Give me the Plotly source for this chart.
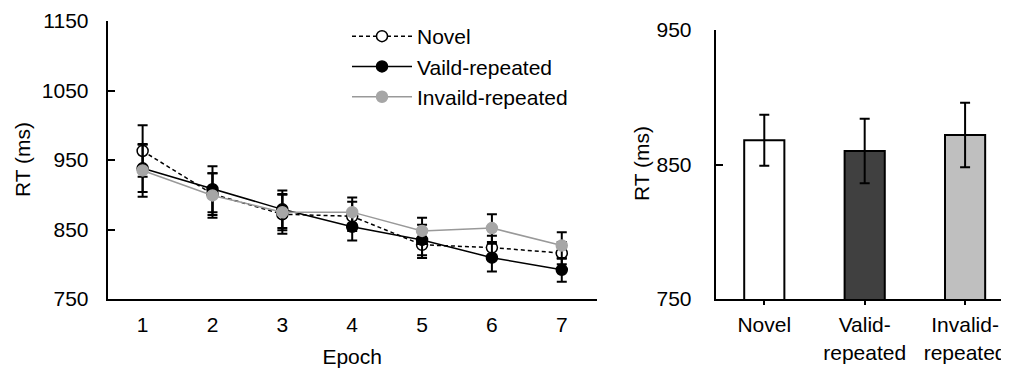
import plotly.graph_objects as go

epochs = [1, 2, 3, 4, 5, 6, 7]
novel = [963, 901, 872, 869, 828, 824, 816]
novel_err = [37, 30, 28, 21, 19, 17, 16]
valid = [938, 908, 879, 854, 835, 809.5, 792]
valid_err = [34, 33, 27, 20, 22, 20, 17]
invalid = [935, 899, 875, 875, 848, 852, 827]
invalid_err = [38, 32, 26, 21, 19, 20, 19]

conditions = ["Novel", "Valid-<br>repeated", "Invalid-<br>repeated"]
mean_rt = [868, 860, 872]
mean_err = [19, 24, 24]

F = "Liberation Sans, Arial, sans-serif"
FS = 21
W, H = 1009, 370
OFF = 8  # page body margin


def px(x):
    return (x - OFF) / W


def py(y):
    return 1 - (y - OFF) / H


fig = go.Figure()


def add_series(name, y, err, dash, color, mcolor, mline):
    fig.add_trace(go.Scatter(
        x=epochs, y=y, name=name, mode="lines+markers",
        line=dict(color=color, width=1.5, dash=dash),
        marker=dict(size=11, color=mcolor, line=dict(color=mline, width=1.5)),
        error_y=dict(type="data", array=err, visible=True, color="black",
                     thickness=2, width=5),
        xaxis="x", yaxis="y"))


add_series("Novel", novel, novel_err, "4px,3px", "black", "white", "black")
add_series("Vaild-repeated", valid, valid_err, "solid", "black", "black", "black")
add_series("Invaild-repeated", invalid, invalid_err, "solid", "#999999", "#a6a6a6", "#a6a6a6")

fig.add_trace(go.Bar(
    x=[0, 1, 2], y=mean_rt, width=0.4,
    marker=dict(color=["white", "#404040", "#bfbfbf"], line=dict(color="black", width=2)),
    error_y=dict(type="data", array=mean_err, visible=True, color="black", thickness=2, width=5),
    showlegend=False, xaxis="x2", yaxis="y2"))

fig.update_layout(
    template="none",
    width=W, height=H, autosize=False,
    margin=dict(l=0, r=0, t=0, b=0, pad=0),
    paper_bgcolor="white", plot_bgcolor="white",
    font=dict(family=F, size=FS, color="black"),
    showlegend=True,
    legend=dict(x=px(347), y=py(16), xanchor="left", yanchor="top",
                bgcolor="rgba(0,0,0,0)", itemwidth=60, tracegroupgap=0,
                font=dict(family=F, size=FS)),
    xaxis=dict(domain=[px(107.7), px(596.7)], range=[0.5, 7.5],
               tickvals=epochs, ticktext=[str(e) for e in epochs],
               showline=True, linecolor="black", linewidth=2, ticks="",
               showgrid=False, zeroline=False, anchor="y", automargin=False,
               ticklabelstandoff=6,
               title=dict(text="Epoch", standoff=14, font=dict(size=FS))),
    yaxis=dict(domain=[py(299), py(21)], range=[750, 1150],
               tickvals=[750, 850, 950, 1050, 1150],
               showline=True, linecolor="black", linewidth=2,
               ticks="inside", ticklen=7, tickwidth=2, tickcolor="black",
               showgrid=False, zeroline=False, anchor="x", automargin=False,
               ticklabelstandoff=13),
    xaxis2=dict(domain=[px(715.7), px(1017)], range=[-0.484, 2.517],
                tickvals=[0, 1, 2], ticktext=conditions,
                showline=True, linecolor="black", linewidth=2,
                ticks="outside", ticklen=4, tickwidth=2, tickcolor="black",
                showgrid=False, zeroline=False, anchor="y2", automargin=False,
                ticklabelstandoff=2),
    yaxis2=dict(domain=[py(299), py(30)], range=[750, 950],
                tickvals=[750, 850, 950],
                showline=True, linecolor="black", linewidth=2,
                ticks="inside", ticklen=7, tickwidth=2, tickcolor="black",
                showgrid=False, zeroline=False, anchor="x2", automargin=False,
                ticklabelstandoff=18),
    annotations=[
        dict(text="RT (ms)", x=px(22), y=py(160), xref="paper", yref="paper",
             textangle=-90, showarrow=False, font=dict(size=FS), xanchor="center", yanchor="middle"),
        dict(text="RT (ms)", x=px(641), y=py(164), xref="paper", yref="paper",
             textangle=-90, showarrow=False, font=dict(size=FS), xanchor="center", yanchor="middle"),
    ],
)

fig.write_html("out.html")
